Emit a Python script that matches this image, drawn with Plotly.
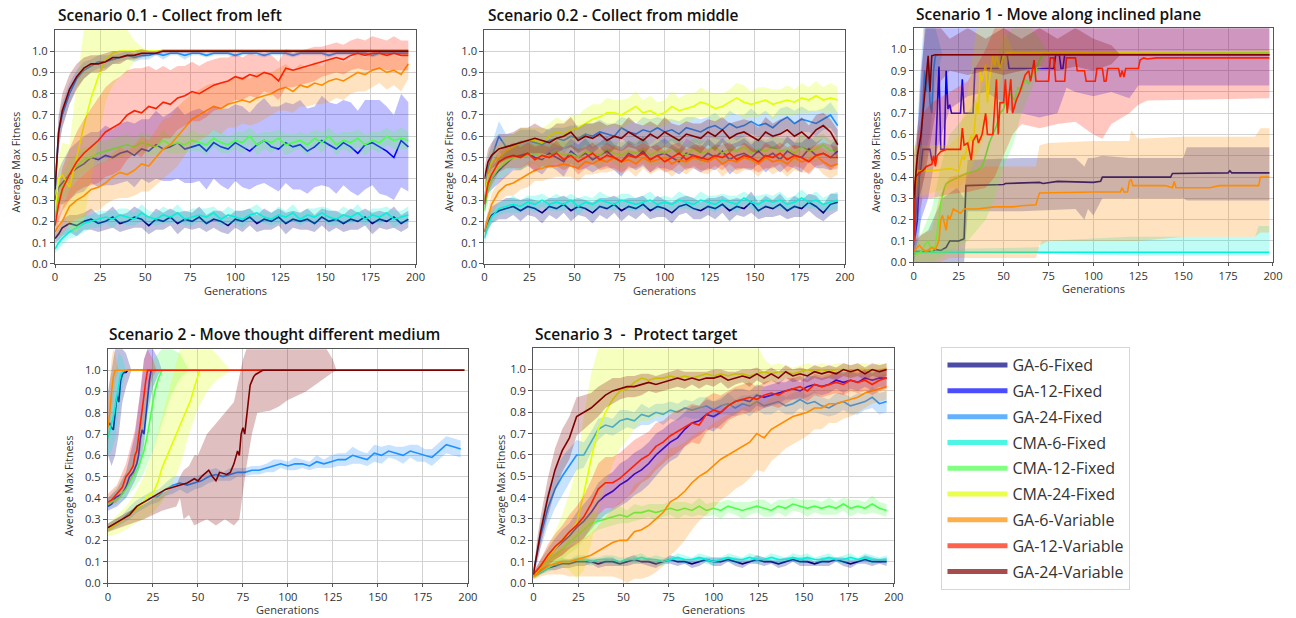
import plotly.graph_objects as go

# ---------------------------------------------------------------- data
GEN = [0, 2] + list(range(4, 200, 4))   # sampled generations (51 points)
X_TICKS = [0, 25, 50, 75, 100, 125, 150, 175, 200]
Y_TICKS = [0.0, 0.1, 0.2, 0.3, 0.4, 0.5, 0.6, 0.7, 0.8, 0.9, 1.0]
SERIES = ["GA-6-Fixed", "GA-12-Fixed", "GA-24-Fixed", "CMA-6-Fixed", "CMA-12-Fixed",
          "CMA-24-Fixed", "GA-6-Variable", "GA-12-Variable", "GA-24-Variable"]
TITLES = ["Scenario 0.1 - Collect from left", "Scenario 0.2 - Collect from middle",
          "Scenario 1 - Move along inclined plane", "Scenario 2 - Move thought different medium",
          "Scenario 3 \u00a0- \u00a0Protect target"]

# ---- Scenario 0.1 (mean, std on GEN)
S01_GA6F = [0.12, 0.14, 0.17, 0.19, 0.18, 0.20, 0.21, 0.19, 0.20, 0.22, 0.19, 0.20,
            0.22, 0.21, 0.18, 0.21, 0.20, 0.22, 0.19, 0.21, 0.20, 0.22,
            0.19, 0.21, 0.20, 0.18, 0.21, 0.20, 0.22, 0.19, 0.21, 0.20,
            0.22, 0.19, 0.21, 0.20, 0.21, 0.19, 0.22, 0.20, 0.21, 0.19,
            0.21, 0.20, 0.22, 0.19, 0.21, 0.20, 0.22, 0.19, 0.21]
S01_GA6F_SD = [0.02, 0.03, 0.04, 0.04, 0.05, 0.04, 0.05, 0.04, 0.04, 0.05, 0.04, 0.04,
               0.05, 0.04, 0.04, 0.05, 0.04, 0.04, 0.05, 0.04, 0.04, 0.05,
               0.04, 0.04, 0.05, 0.04, 0.04, 0.05, 0.04, 0.04, 0.05, 0.04,
               0.04, 0.05, 0.04, 0.04, 0.05, 0.04, 0.04, 0.05, 0.04, 0.04,
               0.05, 0.04, 0.04, 0.05, 0.04, 0.04, 0.05, 0.04, 0.04]
S01_GA12F = [0.30, 0.36, 0.38, 0.42, 0.45, 0.47, 0.50, 0.49, 0.51, 0.50, 0.52, 0.53,
             0.51, 0.54, 0.53, 0.56, 0.54, 0.55, 0.57, 0.54, 0.55, 0.56,
             0.53, 0.57, 0.55, 0.54, 0.57, 0.55, 0.53, 0.56, 0.58, 0.55,
             0.54, 0.57, 0.55, 0.56, 0.53, 0.55, 0.58, 0.56, 0.54, 0.57,
             0.55, 0.52, 0.56, 0.57, 0.55, 0.53, 0.50, 0.58, 0.55]
S01_GA12F_SD = [0.06, 0.08, 0.10, 0.12, 0.12, 0.13, 0.12, 0.13, 0.14, 0.13, 0.14, 0.14,
                0.15, 0.14, 0.15, 0.16, 0.15, 0.16, 0.17, 0.16, 0.17, 0.17,
                0.18, 0.17, 0.18, 0.19, 0.18, 0.19, 0.18, 0.19, 0.20, 0.19,
                0.20, 0.19, 0.20, 0.21, 0.20, 0.19, 0.21, 0.20, 0.21, 0.20,
                0.21, 0.20, 0.21, 0.20, 0.22, 0.21, 0.20, 0.22, 0.21]
S01_GA24F = [0.35, 0.62, 0.70, 0.80, 0.87, 0.91, 0.93, 0.95, 0.95, 0.96, 0.97, 0.98,
             0.97, 0.98, 0.98, 0.99, 0.98, 0.99, 0.99, 0.98, 0.99, 0.99,
             0.98, 0.99, 0.99, 0.99, 0.98, 0.99, 0.99, 0.99, 0.98, 0.99,
             0.99, 0.99, 0.98, 0.99, 0.99, 0.99, 0.99, 0.98, 0.99, 0.99,
             0.99, 0.99, 0.99, 0.98, 0.99, 0.99, 0.99, 0.99, 0.99]
S01_GA24F_SD = [0.05, 0.07, 0.06, 0.05, 0.04, 0.04, 0.03, 0.03, 0.03, 0.02, 0.02, 0.02,
                0.02, 0.02, 0.02, 0.01, 0.02, 0.01, 0.01, 0.02, 0.01, 0.01,
                0.01, 0.01, 0.01, 0.01, 0.01, 0.01, 0.01, 0.01, 0.01, 0.01,
                0.01, 0.01, 0.01, 0.01, 0.01, 0.01, 0.01, 0.01, 0.01, 0.01,
                0.01, 0.01, 0.01, 0.01, 0.01, 0.01, 0.01, 0.01, 0.01]
S01_CMA6 = [0.07, 0.10, 0.12, 0.15, 0.17, 0.19, 0.20, 0.21, 0.22, 0.21, 0.23, 0.22,
            0.21, 0.24, 0.22, 0.21, 0.23, 0.22, 0.24, 0.21, 0.22, 0.23,
            0.22, 0.24, 0.21, 0.23, 0.22, 0.21, 0.23, 0.24, 0.22, 0.21,
            0.23, 0.22, 0.24, 0.21, 0.23, 0.22, 0.24, 0.22, 0.21, 0.23,
            0.22, 0.24, 0.21, 0.23, 0.22, 0.24, 0.21, 0.22, 0.23]
S01_CMA6_SD = [0.02, 0.03, 0.03, 0.03, 0.04, 0.04, 0.03, 0.04, 0.03, 0.04, 0.03, 0.04,
               0.03, 0.04, 0.03, 0.03, 0.04, 0.03, 0.04, 0.03, 0.04, 0.03,
               0.04, 0.03, 0.03, 0.04, 0.03, 0.04, 0.03, 0.04, 0.03, 0.03,
               0.04, 0.03, 0.04, 0.03, 0.03, 0.04, 0.03, 0.04, 0.03, 0.04,
               0.03, 0.04, 0.03, 0.03, 0.04, 0.03, 0.04, 0.03, 0.04]
S01_CMA12 = [0.22, 0.30, 0.36, 0.42, 0.46, 0.49, 0.50, 0.52, 0.53, 0.54, 0.55, 0.56,
             0.55, 0.57, 0.56, 0.55, 0.58, 0.56, 0.57, 0.56, 0.58, 0.57,
             0.56, 0.59, 0.57, 0.56, 0.58, 0.57, 0.60, 0.56, 0.58, 0.57,
             0.59, 0.56, 0.57, 0.58, 0.56, 0.59, 0.57, 0.60, 0.56, 0.58,
             0.57, 0.59, 0.56, 0.58, 0.57, 0.60, 0.58, 0.59, 0.58]
S01_CMA12_SD = [0.05, 0.06, 0.06, 0.07, 0.06, 0.06, 0.05, 0.06, 0.05, 0.05, 0.05, 0.05,
                0.04, 0.05, 0.05, 0.04, 0.05, 0.04, 0.05, 0.04, 0.05, 0.04,
                0.05, 0.04, 0.05, 0.04, 0.04, 0.05, 0.04, 0.05, 0.04, 0.05,
                0.04, 0.05, 0.04, 0.04, 0.05, 0.04, 0.05, 0.04, 0.05, 0.04,
                0.05, 0.04, 0.05, 0.04, 0.05, 0.04, 0.04, 0.05, 0.04]
S01_CMA24 = [0.25, 0.40, 0.42, 0.36, 0.50, 0.65, 0.78, 0.88, 0.96, 0.99, 1.00, 1.00,
             1.00, 1.00, 1.00, 1.00, 1.00, 1.00, 1.00, 1.00, 1.00, 1.00,
             1.00, 1.00, 1.00, 1.00, 1.00, 1.00, 1.00, 1.00, 1.00, 1.00,
             1.00, 1.00, 1.00, 1.00, 1.00, 1.00, 1.00, 1.00, 1.00, 1.00,
             1.00, 1.00, 1.00, 1.00, 1.00, 1.00, 1.00, 1.00, 1.00]
S01_CMA24_SD = [0.05, 0.10, 0.15, 0.20, 0.35, 0.45, 0.40, 0.30, 0.20, 0.15, 0.12, 0.10,
                0.05, 0.02, 0.00, 0.00, 0.00, 0.00, 0.00, 0.00, 0.00, 0.00,
                0.00, 0.00, 0.00, 0.00, 0.00, 0.00, 0.00, 0.00, 0.00, 0.00,
                0.00, 0.00, 0.00, 0.00, 0.00, 0.00, 0.00, 0.00, 0.00, 0.00,
                0.00, 0.00, 0.00, 0.00, 0.00, 0.00, 0.00, 0.00, 0.00]
S01_GA6V = [0.15, 0.18, 0.20, 0.27, 0.30, 0.32, 0.35, 0.36, 0.38, 0.41, 0.43, 0.42,
            0.44, 0.47, 0.46, 0.50, 0.54, 0.56, 0.60, 0.64, 0.68, 0.70,
            0.72, 0.74, 0.73, 0.75, 0.76, 0.77, 0.76, 0.78, 0.79, 0.80,
            0.82, 0.83, 0.81, 0.84, 0.83, 0.85, 0.84, 0.86, 0.87, 0.86,
            0.88, 0.90, 0.89, 0.91, 0.92, 0.90, 0.91, 0.89, 0.94]
S01_GA6V_SD = [0.03, 0.05, 0.06, 0.08, 0.09, 0.10, 0.10, 0.11, 0.10, 0.11, 0.12, 0.11,
               0.12, 0.13, 0.12, 0.13, 0.14, 0.13, 0.14, 0.13, 0.12, 0.12,
               0.12, 0.11, 0.12, 0.11, 0.12, 0.11, 0.11, 0.12, 0.11, 0.10,
               0.10, 0.11, 0.10, 0.10, 0.09, 0.10, 0.09, 0.10, 0.09, 0.09,
               0.08, 0.09, 0.08, 0.08, 0.07, 0.08, 0.07, 0.08, 0.07]
S01_GA12V = [0.18, 0.28, 0.35, 0.42, 0.48, 0.52, 0.55, 0.58, 0.62, 0.64, 0.66, 0.70,
             0.72, 0.71, 0.74, 0.73, 0.76, 0.75, 0.78, 0.79, 0.81, 0.80,
             0.82, 0.84, 0.85, 0.86, 0.88, 0.87, 0.89, 0.88, 0.90, 0.89,
             0.86, 0.92, 0.91, 0.92, 0.93, 0.94, 0.95, 0.96, 0.97, 0.96,
             0.98, 0.99, 0.98, 0.99, 0.99, 0.98, 0.99, 0.98, 0.98]
S01_GA12V_SD = [0.05, 0.08, 0.10, 0.12, 0.14, 0.16, 0.18, 0.20, 0.21, 0.22, 0.22, 0.21,
                0.20, 0.21, 0.19, 0.18, 0.17, 0.16, 0.15, 0.14, 0.14, 0.13,
                0.13, 0.12, 0.12, 0.11, 0.11, 0.10, 0.10, 0.10, 0.09, 0.09,
                0.09, 0.09, 0.08, 0.08, 0.08, 0.08, 0.07, 0.07, 0.07, 0.07,
                0.07, 0.07, 0.07, 0.08, 0.07, 0.07, 0.08, 0.07, 0.07]
S01_GA24V = [0.35, 0.62, 0.72, 0.82, 0.88, 0.92, 0.94, 0.94, 0.95, 0.97, 0.97, 0.98,
             0.98, 0.99, 0.99, 0.99, 1.00, 1.00, 1.00, 1.00, 1.00, 1.00,
             1.00, 1.00, 1.00, 1.00, 1.00, 1.00, 1.00, 1.00, 1.00, 1.00,
             1.00, 1.00, 1.00, 1.00, 1.00, 1.00, 1.00, 1.00, 1.00, 1.00,
             1.00, 1.00, 1.00, 1.00, 1.00, 1.00, 1.00, 1.00, 1.00]
S01_GA24V_SD = [0.06, 0.08, 0.08, 0.07, 0.06, 0.05, 0.04, 0.04, 0.04, 0.03, 0.03, 0.02,
                0.02, 0.02, 0.01, 0.01, 0.01, 0.01, 0.01, 0.01, 0.01, 0.01,
                0.01, 0.01, 0.01, 0.01, 0.01, 0.01, 0.01, 0.01, 0.01, 0.01,
                0.01, 0.01, 0.01, 0.01, 0.01, 0.01, 0.01, 0.01, 0.01, 0.01,
                0.01, 0.01, 0.01, 0.01, 0.01, 0.01, 0.01, 0.01, 0.01]

# ---- Scenario 0.2 (mean, std on GEN)
S02_GA6F = [0.15, 0.20, 0.23, 0.25, 0.26, 0.27, 0.25, 0.27, 0.26, 0.24, 0.27, 0.26,
            0.28, 0.25, 0.27, 0.26, 0.24, 0.27, 0.26, 0.28, 0.25, 0.27,
            0.26, 0.28, 0.25, 0.27, 0.26, 0.24, 0.27, 0.28, 0.26, 0.25,
            0.27, 0.26, 0.28, 0.25, 0.27, 0.26, 0.29, 0.25, 0.27, 0.26,
            0.28, 0.25, 0.27, 0.26, 0.29, 0.27, 0.24, 0.28, 0.29]
S02_GA6F_SD = [0.03, 0.04, 0.04, 0.04, 0.05, 0.04, 0.05, 0.04, 0.04, 0.05, 0.04, 0.05,
               0.04, 0.05, 0.04, 0.04, 0.05, 0.04, 0.05, 0.04, 0.05, 0.04,
               0.05, 0.04, 0.04, 0.05, 0.04, 0.05, 0.04, 0.04, 0.05, 0.04,
               0.04, 0.05, 0.04, 0.05, 0.04, 0.04, 0.05, 0.04, 0.05, 0.04,
               0.05, 0.04, 0.05, 0.04, 0.04, 0.05, 0.04, 0.05, 0.04]
S02_GA12F = [0.30, 0.38, 0.40, 0.44, 0.47, 0.50, 0.51, 0.52, 0.50, 0.49, 0.52, 0.50,
             0.48, 0.53, 0.50, 0.52, 0.49, 0.51, 0.53, 0.50, 0.48, 0.52,
             0.50, 0.53, 0.49, 0.51, 0.52, 0.50, 0.48, 0.52, 0.51, 0.49,
             0.52, 0.50, 0.53, 0.49, 0.51, 0.52, 0.50, 0.53, 0.50, 0.52,
             0.49, 0.53, 0.51, 0.50, 0.54, 0.51, 0.52, 0.50, 0.53]
S02_GA12F_SD = [0.04, 0.05, 0.05, 0.06, 0.06, 0.06, 0.07, 0.06, 0.06, 0.07, 0.06, 0.06,
                0.07, 0.06, 0.06, 0.07, 0.06, 0.06, 0.07, 0.06, 0.07, 0.06,
                0.06, 0.07, 0.06, 0.06, 0.07, 0.06, 0.06, 0.07, 0.06, 0.06,
                0.07, 0.06, 0.06, 0.07, 0.06, 0.07, 0.06, 0.06, 0.07, 0.06,
                0.06, 0.07, 0.06, 0.07, 0.06, 0.06, 0.07, 0.06, 0.06]
S02_GA24F = [0.28, 0.45, 0.50, 0.60, 0.55, 0.56, 0.57, 0.58, 0.57, 0.56, 0.58, 0.59,
             0.58, 0.60, 0.59, 0.61, 0.60, 0.62, 0.61, 0.60, 0.64, 0.62,
             0.61, 0.63, 0.62, 0.64, 0.62, 0.63, 0.61, 0.64, 0.63, 0.62,
             0.64, 0.65, 0.63, 0.66, 0.64, 0.65, 0.67, 0.65, 0.66, 0.64,
             0.67, 0.69, 0.66, 0.68, 0.67, 0.66, 0.68, 0.70, 0.65]
S02_GA24F_SD = [0.04, 0.06, 0.06, 0.07, 0.06, 0.05, 0.06, 0.05, 0.06, 0.05, 0.06, 0.05,
                0.06, 0.05, 0.06, 0.05, 0.06, 0.06, 0.05, 0.06, 0.05, 0.06,
                0.05, 0.06, 0.06, 0.05, 0.06, 0.05, 0.06, 0.05, 0.06, 0.06,
                0.05, 0.06, 0.05, 0.06, 0.06, 0.05, 0.06, 0.05, 0.06, 0.05,
                0.06, 0.05, 0.06, 0.06, 0.05, 0.06, 0.05, 0.06, 0.06]
S02_CMA6 = [0.12, 0.18, 0.22, 0.26, 0.27, 0.28, 0.27, 0.29, 0.28, 0.30, 0.28, 0.29,
            0.28, 0.30, 0.27, 0.29, 0.28, 0.30, 0.29, 0.28, 0.30, 0.29,
            0.28, 0.29, 0.30, 0.28, 0.29, 0.28, 0.30, 0.29, 0.28, 0.30,
            0.29, 0.28, 0.30, 0.29, 0.28, 0.31, 0.29, 0.28, 0.30, 0.29,
            0.30, 0.28, 0.29, 0.31, 0.29, 0.30, 0.28, 0.29, 0.30]
S02_CMA6_SD = [0.03, 0.03, 0.03, 0.03, 0.03, 0.04, 0.03, 0.03, 0.04, 0.03, 0.03, 0.04,
               0.03, 0.03, 0.04, 0.03, 0.03, 0.04, 0.03, 0.03, 0.03, 0.04,
               0.03, 0.03, 0.04, 0.03, 0.03, 0.03, 0.04, 0.03, 0.03, 0.04,
               0.03, 0.04, 0.03, 0.03, 0.04, 0.03, 0.03, 0.04, 0.03, 0.03,
               0.04, 0.03, 0.03, 0.04, 0.03, 0.04, 0.03, 0.04, 0.04]
S02_CMA12 = [0.25, 0.35, 0.40, 0.45, 0.48, 0.50, 0.50, 0.51, 0.52, 0.50, 0.51, 0.53,
             0.51, 0.52, 0.50, 0.53, 0.52, 0.51, 0.54, 0.52, 0.51, 0.53,
             0.52, 0.54, 0.51, 0.53, 0.52, 0.54, 0.53, 0.51, 0.54, 0.52,
             0.53, 0.55, 0.52, 0.54, 0.53, 0.55, 0.52, 0.54, 0.53, 0.55,
             0.53, 0.54, 0.52, 0.55, 0.53, 0.54, 0.56, 0.53, 0.54]
S02_CMA12_SD = [0.04, 0.05, 0.05, 0.05, 0.06, 0.05, 0.06, 0.05, 0.05, 0.06, 0.05, 0.05,
                0.06, 0.05, 0.05, 0.06, 0.05, 0.06, 0.05, 0.05, 0.06, 0.05,
                0.05, 0.06, 0.05, 0.06, 0.05, 0.05, 0.06, 0.05, 0.05, 0.06,
                0.05, 0.05, 0.06, 0.05, 0.06, 0.05, 0.05, 0.06, 0.05, 0.05,
                0.06, 0.05, 0.05, 0.06, 0.05, 0.06, 0.05, 0.05, 0.06]
S02_CMA24 = [0.30, 0.42, 0.48, 0.50, 0.53, 0.55, 0.57, 0.58, 0.58, 0.57, 0.60, 0.62,
             0.61, 0.63, 0.64, 0.66, 0.68, 0.69, 0.71, 0.71, 0.70, 0.72,
             0.74, 0.71, 0.72, 0.70, 0.71, 0.74, 0.72, 0.73, 0.74, 0.76,
             0.75, 0.73, 0.74, 0.76, 0.78, 0.76, 0.75, 0.76, 0.77, 0.75,
             0.76, 0.77, 0.76, 0.78, 0.77, 0.79, 0.77, 0.78, 0.77]
S02_CMA24_SD = [0.05, 0.06, 0.06, 0.06, 0.07, 0.06, 0.07, 0.06, 0.06, 0.07, 0.06, 0.07,
                0.06, 0.07, 0.06, 0.07, 0.07, 0.06, 0.07, 0.06, 0.07, 0.06,
                0.07, 0.06, 0.07, 0.06, 0.06, 0.07, 0.06, 0.07, 0.06, 0.07,
                0.06, 0.07, 0.06, 0.06, 0.07, 0.08, 0.06, 0.07, 0.06, 0.07,
                0.06, 0.07, 0.06, 0.07, 0.06, 0.07, 0.06, 0.07, 0.06]
S02_GA6V = [0.15, 0.22, 0.28, 0.34, 0.37, 0.38, 0.40, 0.42, 0.44, 0.45, 0.46, 0.46,
            0.47, 0.46, 0.45, 0.48, 0.47, 0.49, 0.48, 0.50, 0.48, 0.49,
            0.47, 0.50, 0.48, 0.49, 0.50, 0.47, 0.49, 0.48, 0.50, 0.49,
            0.48, 0.50, 0.47, 0.49, 0.48, 0.50, 0.49, 0.47, 0.50, 0.48,
            0.49, 0.47, 0.50, 0.48, 0.49, 0.51, 0.48, 0.46, 0.47]
S02_GA6V_SD = [0.03, 0.04, 0.05, 0.05, 0.05, 0.06, 0.05, 0.06, 0.05, 0.06, 0.06, 0.05,
               0.06, 0.05, 0.06, 0.06, 0.05, 0.06, 0.05, 0.06, 0.06, 0.05,
               0.06, 0.05, 0.06, 0.05, 0.06, 0.06, 0.05, 0.06, 0.05, 0.06,
               0.06, 0.05, 0.06, 0.05, 0.06, 0.06, 0.05, 0.06, 0.05, 0.06,
               0.05, 0.06, 0.06, 0.05, 0.06, 0.05, 0.06, 0.06, 0.05]
S02_GA12V = [0.28, 0.38, 0.42, 0.48, 0.50, 0.51, 0.50, 0.52, 0.49, 0.51, 0.50, 0.52,
             0.49, 0.51, 0.48, 0.50, 0.52, 0.49, 0.51, 0.50, 0.48, 0.51,
             0.50, 0.52, 0.49, 0.51, 0.48, 0.50, 0.52, 0.49, 0.51, 0.50,
             0.49, 0.51, 0.50, 0.52, 0.49, 0.51, 0.50, 0.48, 0.51, 0.50,
             0.52, 0.49, 0.51, 0.50, 0.48, 0.51, 0.52, 0.50, 0.50]
S02_GA12V_SD = [0.04, 0.05, 0.05, 0.05, 0.05, 0.06, 0.05, 0.05, 0.06, 0.05, 0.05, 0.06,
                0.05, 0.05, 0.06, 0.05, 0.05, 0.05, 0.06, 0.05, 0.05, 0.06,
                0.05, 0.05, 0.06, 0.05, 0.05, 0.06, 0.05, 0.05, 0.05, 0.06,
                0.05, 0.05, 0.06, 0.05, 0.05, 0.06, 0.05, 0.05, 0.06, 0.05,
                0.05, 0.06, 0.05, 0.05, 0.06, 0.05, 0.05, 0.06, 0.05]
S02_GA24V = [0.40, 0.48, 0.51, 0.54, 0.55, 0.56, 0.57, 0.58, 0.59, 0.58, 0.57, 0.59,
             0.60, 0.62, 0.58, 0.60, 0.59, 0.61, 0.58, 0.60, 0.59, 0.62,
             0.60, 0.58, 0.61, 0.59, 0.62, 0.60, 0.58, 0.61, 0.60, 0.59,
             0.62, 0.60, 0.63, 0.59, 0.61, 0.62, 0.60, 0.58, 0.62, 0.60,
             0.61, 0.63, 0.60, 0.62, 0.59, 0.63, 0.65, 0.62, 0.56]
S02_GA24V_SD = [0.05, 0.06, 0.06, 0.07, 0.06, 0.06, 0.07, 0.06, 0.07, 0.06, 0.06, 0.07,
                0.06, 0.07, 0.06, 0.06, 0.07, 0.06, 0.07, 0.06, 0.06, 0.07,
                0.06, 0.07, 0.06, 0.06, 0.07, 0.06, 0.07, 0.06, 0.06, 0.07,
                0.06, 0.07, 0.06, 0.07, 0.06, 0.06, 0.07, 0.06, 0.07, 0.06,
                0.07, 0.06, 0.06, 0.07, 0.06, 0.07, 0.06, 0.06, 0.07]

# ---- Scenario 1 (step-like curves: x/y breakpoints; bands: x / low / high)
S1_GA6F_X = [0, 10, 12, 15, 18, 20, 25, 27, 28, 29, 50, 51, 70, 72, 80, 100, 104, 105,
             143, 144, 175, 176, 177, 198]
S1_GA6F_Y = [0.05, 0.05, 0.06, 0.055, 0.07, 0.10, 0.10, 0.105, 0.11, 0.36, 0.365, 0.37,
             0.375, 0.37, 0.38, 0.375, 0.38, 0.40, 0.40, 0.417, 0.42, 0.43, 0.42, 0.42]
S1_GA6F_BX = [0, 8, 16, 24, 28, 30, 60, 90, 95, 97, 100, 105, 120, 150, 152, 198]
S1_GA6F_LO = [0.0, 0.0, 0.0, 0.0, 0.0, 0.24, 0.24, 0.25, 0.2, 0.25, 0.22, 0.3, 0.3, 0.3, 0.29, 0.29]
S1_GA6F_HI = [0.1, 0.15, 0.3, 0.35, 0.3, 0.48, 0.49, 0.49, 0.45, 0.49, 0.49, 0.5, 0.49, 0.49, 0.54, 0.54]

S1_GA12F_X = [0, 2, 3, 4, 5, 9, 10, 12, 13, 14, 15, 17, 18, 19, 20, 21, 26, 27, 28, 33,
              34, 48, 49, 52, 53, 78, 79, 81, 82, 83, 84, 198]
S1_GA12F_Y = [0.08, 0.2, 0.4, 0.45, 0.53, 0.53, 0.48, 0.48, 0.7, 0.92, 0.53, 0.53, 0.9, 0.72,
              0.74, 0.7, 0.7, 0.86, 0.7, 0.7, 0.91, 0.91, 0.975, 0.975, 0.91, 0.91, 0.975,
              0.975, 0.91, 0.91, 0.975, 0.975]
S1_GA12F_BX = [0, 4, 8, 12, 20, 30, 40, 50, 55, 60, 70, 80, 85, 90, 100, 110, 120, 125, 130, 198]
S1_GA12F_LO = [0.0, 0.2, 0.3, 0.5, 0.72, 0.78, 0.8, 0.75, 0.7, 0.7, 0.68, 0.7, 0.82, 0.8, 0.78,
               0.8, 0.77, 0.83, 0.83, 0.83]
S1_GA12F_HI = [0.3, 0.9, 1.2, 1.2, 1.2, 1.2, 1.2, 1.2, 1.2, 1.2, 1.2, 1.2, 1.2, 1.2, 1.2,
               1.2, 1.2, 1.2, 1.2, 1.2]

S1_GA24F_X = [0, 2, 4, 6, 7, 8, 9, 10, 11, 12, 14, 198]
S1_GA24F_Y = [0.08, 0.3, 0.55, 0.9, 0.8, 0.95, 0.75, 0.7, 0.9, 0.97, 0.975, 0.975]
S1_GA24F_BX = [0, 3, 6, 9, 12, 15, 16, 198]
S1_GA24F_LO = [0.0, 0.1, 0.5, 0.6, 0.85, 0.95, 0.975, 0.975]
S1_GA24F_HI = [0.3, 0.8, 1.2, 1.2, 1.1, 1.0, 0.975, 0.975]

S1_CMA6_X = [0, 198]
S1_CMA6_Y = [0.047, 0.047]
S1_CMA6_BX = [0, 70, 71, 120, 190, 192, 198]
S1_CMA6_LO = [0.04, 0.04, 0.04, 0.03, 0.03, 0.03, 0.03]
S1_CMA6_HI = [0.06, 0.07, 0.1, 0.12, 0.12, 0.17, 0.17]

S1_CMA12_X = [0, 4, 6, 8, 10, 12, 14, 15, 17, 18, 20, 25, 30, 35, 38, 40, 42, 44, 46, 48,
              50, 52, 54, 56, 58, 60, 62, 64, 66, 68, 70, 72, 198]
S1_CMA12_Y = [0.03, 0.05, 0.08, 0.1, 0.05, 0.08, 0.2, 0.28, 0.35, 0.37, 0.38, 0.4, 0.42,
              0.43, 0.45, 0.5, 0.56, 0.6, 0.64, 0.7, 0.72, 0.78, 0.79, 0.76, 0.82, 0.81,
              0.86, 0.84, 0.88, 0.9, 0.95, 0.98, 0.985]
S1_CMA12_BX = [0, 10, 15, 20, 30, 40, 45, 50, 55, 60, 65, 70, 75, 198]
S1_CMA12_LO = [0.0, 0.0, 0.02, 0.05, 0.1, 0.2, 0.3, 0.45, 0.55, 0.7, 0.8, 0.9, 0.985, 0.985]
S1_CMA12_HI = [0.05, 0.25, 0.45, 0.6, 0.7, 0.85, 0.95, 1.05, 1.1, 1.1, 1.1, 1.05, 0.985, 0.985]

S1_CMA24_X = [0, 2, 10, 20, 25, 27, 28, 30, 32, 33, 35, 36, 37, 38, 40, 41, 42, 44, 45, 46,
              48, 50, 52, 198]
S1_CMA24_Y = [0.3, 0.43, 0.43, 0.44, 0.43, 0.5, 0.48, 0.55, 0.6, 0.55, 0.75, 0.7, 0.9, 0.85,
              0.93, 0.75, 0.85, 0.97, 0.92, 0.97, 0.91, 0.97, 0.985, 0.99]
S1_CMA24_BX = [0, 20, 25, 30, 35, 40, 45, 50, 55, 56, 198]
S1_CMA24_LO = [0.3, 0.35, 0.35, 0.4, 0.5, 0.6, 0.75, 0.9, 0.985, 0.99, 0.99]
S1_CMA24_HI = [0.55, 0.55, 0.6, 0.8, 1.1, 1.2, 1.2, 1.1, 1.0, 0.99, 0.99]

S1_GA6V_X = [0, 2, 3, 5, 7, 10, 12, 14, 15, 16, 17, 18, 19, 20, 22, 24, 26, 28, 35, 45,
             55, 60, 68, 69, 70, 100, 115, 116, 117, 119, 120, 121, 122, 140, 144, 145,
             146, 165, 170, 192, 193, 198]
S1_GA6V_Y = [0.05, 0.07, 0.08, 0.06, 0.05, 0.07, 0.06, 0.1, 0.2, 0.22, 0.18, 0.15, 0.22, 0.2,
             0.25, 0.24, 0.23, 0.25, 0.25, 0.26, 0.26, 0.265, 0.27, 0.3, 0.325, 0.33, 0.33,
             0.35, 0.33, 0.33, 0.38, 0.39, 0.36, 0.36, 0.35, 0.38, 0.35, 0.35, 0.36, 0.36,
             0.40, 0.40]
S1_GA6V_BX = [0, 10, 14, 20, 30, 40, 50, 60, 68, 70, 75, 100, 120, 121, 125, 150, 190, 193, 198]
S1_GA6V_LO = [0.0, 0.0, 0.0, 0.02, 0.02, 0.02, 0.02, 0.02, 0.02, 0.08, 0.1, 0.1, 0.1, 0.1,
              0.1, 0.12, 0.12, 0.14, 0.14]
S1_GA6V_HI = [0.12, 0.15, 0.3, 0.4, 0.42, 0.45, 0.45, 0.45, 0.45, 0.55, 0.56, 0.57, 0.57,
              0.62, 0.58, 0.59, 0.59, 0.63, 0.63]

S1_GA12V_X = [0, 1, 3, 5, 7, 10, 11, 12, 13, 15, 18, 26, 27, 28, 30, 32, 33, 35, 36, 38,
              40, 41, 43, 44, 46, 47, 48, 50, 51, 52, 53, 54, 55, 57, 59, 62, 64, 65, 66, 67,
              68, 75, 76, 78, 79, 84, 85, 90, 91, 95, 96, 101, 102, 105, 106, 107, 108, 114,
              115, 116, 117, 118, 125, 126, 128, 130, 135, 198]
S1_GA12V_Y = [0.1, 0.4, 0.42, 0.43, 0.45, 0.46, 0.5, 0.45, 0.5, 0.52, 0.53, 0.53, 0.63, 0.55,
              0.56, 0.48, 0.57, 0.6, 0.56, 0.6, 0.7, 0.6, 0.6, 0.6, 0.86, 0.6, 0.75, 0.75,
              0.86, 0.7, 0.78, 0.86, 0.7, 0.76, 0.8, 0.88, 0.9, 0.85, 0.9, 0.95, 0.85, 0.85,
              0.96, 0.96, 0.85, 0.85, 0.96, 0.96, 0.9, 0.9, 0.85, 0.85, 0.91, 0.91, 0.85,
              0.85, 0.91, 0.91, 0.87, 0.9, 0.87, 0.91, 0.91, 0.95, 0.96, 0.955, 0.96, 0.96]
S1_GA12V_BX = [0, 2, 5, 10, 20, 30, 40, 45, 50, 55, 60, 70, 80, 90, 100, 105, 110, 120,
               125, 130, 198]
S1_GA12V_LO = [0.0, 0.2, 0.3, 0.3, 0.32, 0.33, 0.35, 0.4, 0.5, 0.6, 0.65, 0.63, 0.65, 0.66,
               0.6, 0.58, 0.65, 0.7, 0.74, 0.76, 0.77]
S1_GA12V_HI = [0.3, 0.6, 0.7, 0.75, 0.8, 0.85, 1.0, 1.1, 1.2, 1.2, 1.2, 1.2, 1.2, 1.2, 1.2,
               1.2, 1.2, 1.2, 1.2, 1.2, 1.2]

S1_GA24V_X = [0, 2, 4, 6, 8, 9, 10, 12, 198]
S1_GA24V_Y = [0.3, 0.5, 0.6, 0.8, 0.97, 0.8, 0.97, 0.975, 0.975]
S1_GA24V_BX = [0, 3, 6, 10, 15, 20, 30, 40, 50, 60, 70, 80, 90, 100, 110, 115, 198]
S1_GA24V_LO = [0.1, 0.3, 0.4, 0.6, 0.85, 0.9, 0.88, 0.9, 0.88, 0.9, 0.92, 0.9, 0.92, 0.9,
               0.93, 0.975, 0.975]
S1_GA24V_HI = [0.5, 0.7, 1.1, 1.2, 1.1, 1.05, 1.1, 1.05, 1.1, 1.05, 1.1, 1.05, 1.1, 1.05,
               1.02, 0.975, 0.975]

# ---- Scenario 2 (curves: x/y; bands: x / low / high; GA-24-Fixed on GEN with std)
S2_GA6F_X = [0, 1, 2, 3, 4, 5, 6, 7, 8, 9, 10, 11, 198]
S2_GA6F_Y = [0.74, 0.75, 0.73, 0.72, 0.8, 0.88, 0.85, 0.95, 0.98, 0.99, 0.99, 1.0, 1.0]
S2_GA6F_BX = [0, 2, 4, 6, 8, 10, 12, 13]
S2_GA6F_LO = [0.6, 0.55, 0.6, 0.7, 0.85, 0.92, 0.97, 1.0]
S2_GA6F_HI = [0.9, 1.0, 1.1, 1.1, 1.1, 1.08, 1.03, 1.0]

S2_GA12F_X = [0, 2, 4, 6, 8, 10, 12, 14, 16, 17, 18, 19, 20, 21, 22, 23, 24, 198]
S2_GA12F_Y = [0.36, 0.37, 0.40, 0.41, 0.42, 0.45, 0.50, 0.52, 0.56, 0.6, 0.68, 0.72, 0.70,
              0.78, 0.87, 0.95, 1.0, 1.0]
S2_GA12F_BX = [0, 5, 10, 15, 18, 20, 22, 25, 28, 30]
S2_GA12F_LO = [0.34, 0.36, 0.4, 0.48, 0.55, 0.65, 0.8, 0.92, 0.98, 1.0]
S2_GA12F_HI = [0.4, 0.44, 0.52, 0.7, 0.9, 1.05, 1.1, 1.1, 1.05, 1.0]

S2_GA24F = [0.26, 0.27, 0.28, 0.30, 0.33, 0.36, 0.38, 0.40, 0.41, 0.44, 0.46, 0.47,
            0.46, 0.47, 0.48, 0.50, 0.51, 0.50, 0.51, 0.52, 0.52, 0.53,
            0.53, 0.54, 0.55, 0.56, 0.55, 0.56, 0.56, 0.55, 0.57, 0.56,
            0.57, 0.58, 0.58, 0.60, 0.59, 0.58, 0.61, 0.60, 0.62, 0.61,
            0.60, 0.62, 0.61, 0.60, 0.59, 0.62, 0.65, 0.64, 0.63]
S2_GA24F_SD = [0.02, 0.02, 0.02, 0.02, 0.03, 0.03, 0.03, 0.03, 0.03, 0.03, 0.04, 0.03,
               0.04, 0.03, 0.03, 0.03, 0.03, 0.02, 0.03, 0.02, 0.02, 0.02,
               0.02, 0.02, 0.03, 0.02, 0.02, 0.03, 0.02, 0.02, 0.03, 0.02,
               0.03, 0.03, 0.03, 0.04, 0.03, 0.03, 0.04, 0.04, 0.03, 0.03,
               0.04, 0.03, 0.04, 0.03, 0.04, 0.04, 0.04, 0.04, 0.04]

S2_CMA6_X = [0, 1, 2, 3, 4, 5, 6, 7, 8, 9, 198]
S2_CMA6_Y = [0.68, 0.72, 0.75, 0.78, 0.83, 0.9, 0.95, 0.98, 0.99, 1.0, 1.0]
S2_CMA6_BX = [0, 2, 4, 6, 8, 10]
S2_CMA6_LO = [0.6, 0.62, 0.68, 0.8, 0.92, 1.0]
S2_CMA6_HI = [0.76, 0.88, 0.98, 1.08, 1.06, 1.0]

S2_CMA12_X = [0, 2, 4, 6, 8, 10, 12, 14, 16, 18, 20, 22, 24, 26, 28, 30, 198]
S2_CMA12_Y = [0.37, 0.38, 0.39, 0.40, 0.42, 0.44, 0.47, 0.50, 0.53, 0.57, 0.62, 0.70, 0.80,
              0.90, 0.96, 1.0, 1.0]
S2_CMA12_BX = [0, 5, 10, 15, 20, 25, 30, 35, 40, 45]
S2_CMA12_LO = [0.35, 0.37, 0.4, 0.45, 0.52, 0.62, 0.75, 0.88, 0.96, 1.0]
S2_CMA12_HI = [0.4, 0.45, 0.52, 0.65, 0.85, 1.05, 1.1, 1.1, 1.08, 1.0]

S2_CMA24_X = [0, 5, 10, 15, 20, 22, 25, 28, 30, 32, 34, 36, 38, 40, 42, 44, 46, 48, 50, 51, 198]
S2_CMA24_Y = [0.25, 0.28, 0.31, 0.34, 0.38, 0.41, 0.42, 0.48, 0.54, 0.58, 0.62, 0.66, 0.70,
              0.74, 0.78, 0.82, 0.86, 0.92, 0.97, 1.0, 1.0]
S2_CMA24_BX = [0, 5, 10, 15, 20, 25, 30, 35, 40, 45, 50, 55, 60, 65, 68]
S2_CMA24_LO = [0.22, 0.23, 0.25, 0.28, 0.3, 0.33, 0.38, 0.45, 0.55, 0.7, 0.82, 0.9, 0.95, 0.98, 1.0]
S2_CMA24_HI = [0.28, 0.32, 0.36, 0.42, 0.5, 0.62, 0.78, 0.95, 1.1, 1.15, 1.15, 1.12, 1.08, 1.03, 1.0]

S2_GA6V_X = [0, 1, 2, 3, 4, 198]
S2_GA6V_Y = [0.73, 0.8, 0.9, 0.97, 1.0, 1.0]
S2_GA6V_BX = [0, 1, 2, 3, 4, 5, 6]
S2_GA6V_LO = [0.65, 0.7, 0.8, 0.88, 0.95, 0.98, 1.0]
S2_GA6V_HI = [0.85, 0.95, 1.05, 1.1, 1.08, 1.03, 1.0]

S2_GA12V_X = [0, 2, 4, 6, 8, 10, 12, 14, 15, 16, 17, 18, 19, 20, 21, 22, 198]
S2_GA12V_Y = [0.38, 0.39, 0.41, 0.43, 0.45, 0.50, 0.52, 0.55, 0.60, 0.62, 0.68, 0.75, 0.82,
              0.88, 0.95, 1.0, 1.0]
S2_GA12V_BX = [0, 5, 10, 15, 18, 20, 22, 25, 27]
S2_GA12V_LO = [0.36, 0.38, 0.44, 0.52, 0.62, 0.75, 0.88, 0.97, 1.0]
S2_GA12V_HI = [0.42, 0.46, 0.56, 0.72, 0.9, 1.05, 1.1, 1.05, 1.0]

S2_GA24V_X = [0, 2, 4, 8, 12, 16, 20, 24, 28, 32, 36, 40, 44, 48, 50, 52, 56, 58, 60, 62,
              66, 68, 70, 72, 73, 74, 75, 76, 77, 78, 79, 80, 81, 82, 84, 86, 198]
S2_GA24V_Y = [0.26, 0.27, 0.28, 0.3, 0.32, 0.36, 0.38, 0.40, 0.42, 0.44, 0.45, 0.46, 0.47,
              0.49, 0.48, 0.50, 0.53, 0.50, 0.48, 0.52, 0.51, 0.52, 0.56, 0.62, 0.60, 0.70,
              0.73, 0.70, 0.77, 0.85, 0.93, 0.95, 0.97, 0.98, 0.99, 1.0, 1.0]
S2_GA24V_BX = [0, 10, 20, 30, 38, 40, 42, 45, 48, 50, 55, 60, 65, 70, 73, 75, 77, 80, 83, 90,
               95, 100, 105, 110, 115, 120, 125, 127]
S2_GA24V_LO = [0.24, 0.27, 0.3, 0.34, 0.36, 0.4, 0.3, 0.32, 0.27, 0.28, 0.3, 0.27, 0.3, 0.27,
               0.3, 0.42, 0.55, 0.7, 0.8, 0.81, 0.83, 0.86, 0.88, 0.9, 0.93, 0.96, 0.99, 1.0]
S2_GA24V_HI = [0.28, 0.33, 0.37, 0.42, 0.46, 0.5, 0.53, 0.55, 0.6, 0.6, 0.7, 0.75, 0.8, 0.85,
               0.97, 1.05, 1.1, 1.15, 1.2, 1.2, 1.2, 1.2, 1.2, 1.2, 1.15, 1.12, 1.05, 1.0]

# ---- Scenario 3 (mean, std on GEN)
S3_GA6F = [0.03, 0.04, 0.05, 0.07, 0.08, 0.09, 0.09, 0.10, 0.10, 0.10, 0.09, 0.10,
           0.10, 0.09, 0.10, 0.11, 0.10, 0.10, 0.09, 0.10, 0.11, 0.10,
           0.10, 0.09, 0.10, 0.11, 0.10, 0.10, 0.11, 0.10, 0.09, 0.10,
           0.11, 0.10, 0.10, 0.09, 0.10, 0.11, 0.10, 0.10, 0.09, 0.10,
           0.10, 0.11, 0.10, 0.09, 0.10, 0.11, 0.10, 0.10, 0.10]
S3_GA6F_SD = [0.01, 0.01, 0.01, 0.01, 0.02, 0.02, 0.02, 0.02, 0.02, 0.01, 0.02, 0.02,
              0.02, 0.01, 0.02, 0.02, 0.01, 0.02, 0.02, 0.01, 0.02, 0.02,
              0.01, 0.02, 0.02, 0.01, 0.02, 0.02, 0.01, 0.02, 0.02, 0.01,
              0.02, 0.02, 0.01, 0.02, 0.02, 0.01, 0.02, 0.02, 0.01, 0.02,
              0.02, 0.01, 0.02, 0.02, 0.01, 0.02, 0.02, 0.01, 0.02]
S3_GA12F = [0.04, 0.06, 0.08, 0.12, 0.16, 0.19, 0.22, 0.26, 0.29, 0.33, 0.38, 0.41,
            0.43, 0.46, 0.48, 0.51, 0.53, 0.56, 0.60, 0.63, 0.66, 0.68,
            0.72, 0.75, 0.76, 0.79, 0.78, 0.80, 0.83, 0.85, 0.86, 0.85,
            0.88, 0.87, 0.88, 0.89, 0.90, 0.91, 0.90, 0.92, 0.93, 0.92,
            0.93, 0.95, 0.94, 0.95, 0.94, 0.96, 0.95, 0.96, 0.96]
S3_GA12F_SD = [0.01, 0.02, 0.03, 0.04, 0.05, 0.06, 0.06, 0.07, 0.08, 0.08, 0.09, 0.09,
               0.09, 0.10, 0.10, 0.10, 0.10, 0.10, 0.10, 0.09, 0.09, 0.09,
               0.08, 0.08, 0.07, 0.07, 0.07, 0.06, 0.06, 0.06, 0.05, 0.05,
               0.05, 0.05, 0.05, 0.05, 0.04, 0.05, 0.04, 0.05, 0.04, 0.04,
               0.04, 0.04, 0.05, 0.04, 0.04, 0.04, 0.05, 0.04, 0.04]
S3_GA24F = [0.05, 0.13, 0.22, 0.35, 0.44, 0.50, 0.55, 0.60, 0.60, 0.66, 0.72, 0.74,
            0.73, 0.76, 0.77, 0.76, 0.79, 0.78, 0.80, 0.79, 0.81, 0.80,
            0.82, 0.81, 0.82, 0.83, 0.81, 0.83, 0.84, 0.82, 0.84, 0.83,
            0.85, 0.83, 0.84, 0.85, 0.83, 0.84, 0.86, 0.84, 0.85, 0.83,
            0.82, 0.84, 0.85, 0.83, 0.84, 0.85, 0.87, 0.84, 0.85]
S3_GA24F_SD = [0.02, 0.04, 0.06, 0.08, 0.09, 0.09, 0.08, 0.07, 0.06, 0.05, 0.05, 0.04,
               0.04, 0.05, 0.04, 0.04, 0.05, 0.04, 0.04, 0.05, 0.04, 0.04,
               0.04, 0.04, 0.05, 0.04, 0.04, 0.04, 0.05, 0.04, 0.04, 0.05,
               0.04, 0.04, 0.05, 0.04, 0.04, 0.05, 0.04, 0.04, 0.05, 0.04,
               0.04, 0.05, 0.04, 0.04, 0.05, 0.04, 0.05, 0.05, 0.05]
S3_CMA6 = [0.03, 0.04, 0.05, 0.07, 0.09, 0.10, 0.10, 0.11, 0.11, 0.10, 0.11, 0.11,
           0.11, 0.10, 0.11, 0.11, 0.12, 0.11, 0.11, 0.10, 0.11, 0.12,
           0.11, 0.11, 0.12, 0.11, 0.10, 0.11, 0.12, 0.11, 0.11, 0.12,
           0.11, 0.11, 0.12, 0.11, 0.11, 0.12, 0.11, 0.12, 0.11, 0.11,
           0.12, 0.11, 0.11, 0.12, 0.11, 0.12, 0.11, 0.11, 0.11]
S3_CMA6_SD = [0.01, 0.01, 0.01, 0.02, 0.02, 0.02, 0.01, 0.02, 0.02, 0.02, 0.01, 0.02,
              0.02, 0.02, 0.01, 0.02, 0.02, 0.01, 0.02, 0.02, 0.01, 0.02,
              0.02, 0.01, 0.02, 0.02, 0.02, 0.01, 0.02, 0.02, 0.01, 0.02,
              0.02, 0.01, 0.02, 0.02, 0.01, 0.02, 0.02, 0.02, 0.01, 0.02,
              0.02, 0.01, 0.02, 0.02, 0.01, 0.02, 0.02, 0.01, 0.02]
S3_CMA12 = [0.03, 0.05, 0.07, 0.10, 0.13, 0.16, 0.19, 0.22, 0.25, 0.28, 0.29, 0.30,
            0.31, 0.32, 0.31, 0.33, 0.33, 0.34, 0.33, 0.34, 0.35, 0.34,
            0.35, 0.34, 0.36, 0.34, 0.35, 0.34, 0.36, 0.35, 0.34, 0.35,
            0.36, 0.35, 0.34, 0.36, 0.35, 0.37, 0.36, 0.35, 0.36, 0.35,
            0.36, 0.35, 0.37, 0.35, 0.36, 0.35, 0.37, 0.35, 0.34]
S3_CMA12_SD = [0.01, 0.02, 0.02, 0.03, 0.04, 0.05, 0.05, 0.06, 0.05, 0.05, 0.04, 0.04,
               0.04, 0.04, 0.03, 0.04, 0.03, 0.03, 0.04, 0.03, 0.03, 0.04,
               0.03, 0.03, 0.04, 0.03, 0.03, 0.04, 0.03, 0.03, 0.04, 0.03,
               0.03, 0.04, 0.03, 0.03, 0.04, 0.03, 0.03, 0.04, 0.03, 0.03,
               0.04, 0.03, 0.03, 0.04, 0.03, 0.03, 0.04, 0.03, 0.03]
S3_CMA24 = [0.03, 0.05, 0.08, 0.12, 0.16, 0.20, 0.24, 0.28, 0.42, 0.58, 0.72, 0.80,
            0.86, 0.90, 0.91, 0.94, 0.96, 0.95, 0.96, 0.96, 0.97, 0.96,
            0.97, 0.96, 0.97, 0.98, 0.97, 0.98, 0.97, 0.98, 0.98, 0.97,
            0.98, 0.99, 0.98, 0.99, 0.99, 0.98, 0.99, 1.00, 0.99, 1.00,
            0.99, 1.00, 1.00, 0.99, 1.00, 1.00, 0.99, 1.00, 1.00]
S3_CMA24_SD = [0.01, 0.02, 0.03, 0.05, 0.08, 0.12, 0.18, 0.26, 0.36, 0.40, 0.38, 0.34,
               0.30, 0.27, 0.24, 0.22, 0.20, 0.19, 0.18, 0.18, 0.17, 0.17,
               0.16, 0.16, 0.16, 0.15, 0.15, 0.15, 0.15, 0.15, 0.14, 0.14,
               0.14, 0.06, 0.04, 0.04, 0.03, 0.03, 0.03, 0.03, 0.03, 0.03,
               0.03, 0.03, 0.03, 0.03, 0.03, 0.03, 0.03, 0.03, 0.03]
S3_GA6V = [0.03, 0.04, 0.06, 0.08, 0.09, 0.10, 0.10, 0.11, 0.12, 0.13, 0.15, 0.17,
           0.19, 0.20, 0.20, 0.24, 0.25, 0.27, 0.30, 0.33, 0.38, 0.40,
           0.43, 0.47, 0.50, 0.52, 0.55, 0.58, 0.60, 0.62, 0.64, 0.66,
           0.70, 0.68, 0.72, 0.74, 0.76, 0.78, 0.79, 0.80, 0.82, 0.82,
           0.84, 0.84, 0.85, 0.86, 0.87, 0.89, 0.90, 0.91, 0.92]
S3_GA6V_SD = [0.01, 0.02, 0.03, 0.04, 0.05, 0.06, 0.07, 0.08, 0.09, 0.10, 0.12, 0.14,
              0.16, 0.18, 0.20, 0.22, 0.23, 0.24, 0.25, 0.25, 0.25, 0.24,
              0.23, 0.22, 0.21, 0.20, 0.20, 0.19, 0.19, 0.18, 0.18, 0.17,
              0.17, 0.16, 0.15, 0.14, 0.13, 0.13, 0.12, 0.11, 0.10, 0.10,
              0.09, 0.09, 0.08, 0.08, 0.07, 0.07, 0.06, 0.06, 0.06]
S3_GA12V = [0.04, 0.06, 0.08, 0.13, 0.17, 0.20, 0.24, 0.27, 0.31, 0.37, 0.44, 0.47,
            0.47, 0.49, 0.52, 0.55, 0.58, 0.60, 0.64, 0.66, 0.69, 0.71,
            0.73, 0.75, 0.74, 0.79, 0.81, 0.80, 0.83, 0.85, 0.86, 0.87,
            0.86, 0.88, 0.89, 0.88, 0.90, 0.91, 0.92, 0.90, 0.93, 0.92,
            0.93, 0.94, 0.93, 0.95, 0.94, 0.95, 0.93, 0.95, 0.96]
S3_GA12V_SD = [0.01, 0.02, 0.03, 0.05, 0.06, 0.07, 0.08, 0.09, 0.10, 0.11, 0.12, 0.12,
               0.12, 0.12, 0.12, 0.12, 0.11, 0.11, 0.11, 0.10, 0.10, 0.10,
               0.09, 0.09, 0.09, 0.08, 0.08, 0.08, 0.07, 0.07, 0.07, 0.07,
               0.06, 0.06, 0.06, 0.06, 0.06, 0.05, 0.05, 0.05, 0.05, 0.05,
               0.05, 0.05, 0.05, 0.05, 0.05, 0.05, 0.05, 0.05, 0.05]
S3_GA24V = [0.04, 0.15, 0.24, 0.40, 0.53, 0.62, 0.68, 0.78, 0.80, 0.82, 0.85, 0.88,
            0.90, 0.91, 0.92, 0.92, 0.93, 0.94, 0.93, 0.94, 0.95, 0.96,
            0.95, 0.96, 0.95, 0.96, 0.96, 0.97, 0.95, 0.96, 0.97, 0.96,
            0.98, 0.96, 0.98, 0.96, 0.99, 0.97, 0.98, 0.97, 0.99, 0.98,
            0.99, 0.98, 1.00, 0.99, 1.00, 0.98, 1.00, 0.99, 1.00]
S3_GA24V_SD = [0.01, 0.05, 0.07, 0.09, 0.10, 0.10, 0.10, 0.09, 0.08, 0.07, 0.07, 0.06,
               0.06, 0.05, 0.05, 0.05, 0.05, 0.04, 0.04, 0.04, 0.04, 0.04,
               0.04, 0.03, 0.04, 0.03, 0.04, 0.03, 0.04, 0.03, 0.03, 0.04,
               0.03, 0.03, 0.03, 0.03, 0.03, 0.03, 0.03, 0.03, 0.03, 0.03,
               0.03, 0.03, 0.03, 0.03, 0.03, 0.03, 0.03, 0.03, 0.03]

# ---------------------------------------------------------------- styles
COLORS = ["#000080", "#0000ff", "#1e90ff", "#00f2d8", "#4cff4c",
          "#e0ff00", "#ff8c00", "#ff2000", "#800000"]
BAND_ALPHA = 0.25
W, H = 1296, 618
# measured mapping between figure pixels and the photographed page
SX, OX, SY, OY = 0.9914, 2.17, 0.9862, 1.74
FONT = "Open Sans, Noto Sans, sans-serif"


def px(xp):
    return ((xp - OX) / SX) / W


def py(yp):
    return 1 - ((yp - OY) / SY) / H


def rgba(h, a):
    h = h.lstrip("#")
    return "rgba(%d,%d,%d,%s)" % (int(h[0:2], 16), int(h[2:4], 16), int(h[4:6], 16), a)


def from_sd(mean, sd):
    assert len(mean) == len(GEN) and len(sd) == len(GEN)
    return dict(lx=GEN, ly=mean, bx=GEN,
                lo=[m - s for m, s in zip(mean, sd)],
                hi=[m + s for m, s in zip(mean, sd)])


def from_xy(lx, ly, bx, lo, hi):
    assert len(lx) == len(ly) and len(bx) == len(lo) == len(hi)
    return dict(lx=lx, ly=ly, bx=bx, lo=lo, hi=hi)


P01 = [from_sd(S01_GA6F, S01_GA6F_SD), from_sd(S01_GA12F, S01_GA12F_SD),
       from_sd(S01_GA24F, S01_GA24F_SD), from_sd(S01_CMA6, S01_CMA6_SD),
       from_sd(S01_CMA12, S01_CMA12_SD), from_sd(S01_CMA24, S01_CMA24_SD),
       from_sd(S01_GA6V, S01_GA6V_SD), from_sd(S01_GA12V, S01_GA12V_SD),
       from_sd(S01_GA24V, S01_GA24V_SD)]
P02 = [from_sd(S02_GA6F, S02_GA6F_SD), from_sd(S02_GA12F, S02_GA12F_SD),
       from_sd(S02_GA24F, S02_GA24F_SD), from_sd(S02_CMA6, S02_CMA6_SD),
       from_sd(S02_CMA12, S02_CMA12_SD), from_sd(S02_CMA24, S02_CMA24_SD),
       from_sd(S02_GA6V, S02_GA6V_SD), from_sd(S02_GA12V, S02_GA12V_SD),
       from_sd(S02_GA24V, S02_GA24V_SD)]
P1 = [from_xy(S1_GA6F_X, S1_GA6F_Y, S1_GA6F_BX, S1_GA6F_LO, S1_GA6F_HI),
      from_xy(S1_GA12F_X, S1_GA12F_Y, S1_GA12F_BX, S1_GA12F_LO, S1_GA12F_HI),
      from_xy(S1_GA24F_X, S1_GA24F_Y, S1_GA24F_BX, S1_GA24F_LO, S1_GA24F_HI),
      from_xy(S1_CMA6_X, S1_CMA6_Y, S1_CMA6_BX, S1_CMA6_LO, S1_CMA6_HI),
      from_xy(S1_CMA12_X, S1_CMA12_Y, S1_CMA12_BX, S1_CMA12_LO, S1_CMA12_HI),
      from_xy(S1_CMA24_X, S1_CMA24_Y, S1_CMA24_BX, S1_CMA24_LO, S1_CMA24_HI),
      from_xy(S1_GA6V_X, S1_GA6V_Y, S1_GA6V_BX, S1_GA6V_LO, S1_GA6V_HI),
      from_xy(S1_GA12V_X, S1_GA12V_Y, S1_GA12V_BX, S1_GA12V_LO, S1_GA12V_HI),
      from_xy(S1_GA24V_X, S1_GA24V_Y, S1_GA24V_BX, S1_GA24V_LO, S1_GA24V_HI)]
P2 = [from_xy(S2_GA6F_X, S2_GA6F_Y, S2_GA6F_BX, S2_GA6F_LO, S2_GA6F_HI),
      from_xy(S2_GA12F_X, S2_GA12F_Y, S2_GA12F_BX, S2_GA12F_LO, S2_GA12F_HI),
      from_sd(S2_GA24F, S2_GA24F_SD),
      from_xy(S2_CMA6_X, S2_CMA6_Y, S2_CMA6_BX, S2_CMA6_LO, S2_CMA6_HI),
      from_xy(S2_CMA12_X, S2_CMA12_Y, S2_CMA12_BX, S2_CMA12_LO, S2_CMA12_HI),
      from_xy(S2_CMA24_X, S2_CMA24_Y, S2_CMA24_BX, S2_CMA24_LO, S2_CMA24_HI),
      from_xy(S2_GA6V_X, S2_GA6V_Y, S2_GA6V_BX, S2_GA6V_LO, S2_GA6V_HI),
      from_xy(S2_GA12V_X, S2_GA12V_Y, S2_GA12V_BX, S2_GA12V_LO, S2_GA12V_HI),
      from_xy(S2_GA24V_X, S2_GA24V_Y, S2_GA24V_BX, S2_GA24V_LO, S2_GA24V_HI)]
P3 = [from_sd(S3_GA6F, S3_GA6F_SD), from_sd(S3_GA12F, S3_GA12F_SD),
      from_sd(S3_GA24F, S3_GA24F_SD), from_sd(S3_CMA6, S3_CMA6_SD),
      from_sd(S3_CMA12, S3_CMA12_SD), from_sd(S3_CMA24, S3_CMA24_SD),
      from_sd(S3_GA6V, S3_GA6V_SD), from_sd(S3_GA12V, S3_GA12V_SD),
      from_sd(S3_GA24V, S3_GA24V_SD)]

# panel layout in page pixels: (left, right, top, bottom), title pos, y-title pos, x-title pos
LAYOUT = [
    dict(data=P01, box=(54.3, 415.3, 31.7, 265.0), title=(55, 17), ytl=(15, 163), xtl=(235, 292)),
    dict(data=P02, box=(484.3, 845.3, 31.7, 265.0), title=(486, 17), ytl=(448, 163), xtl=(665, 292)),
    dict(data=P1, box=(914.3, 1274.0, 30.0, 263.3), title=(914, 16), ytl=(876, 163), xtl=(1094, 290)),
    dict(data=P2, box=(107.3, 467.7, 350.0, 583.3), title=(106, 335), ytl=(69, 486), xtl=(287, 609.5)),
    dict(data=P3, box=(533.3, 894.3, 349.3, 583.3), title=(533, 335), ytl=(501, 486), xtl=(714, 609.5)),
]

fig = go.Figure()
annotations = []
for i, pnl in enumerate(LAYOUT):
    xa = "x" if i == 0 else "x%d" % (i + 1)
    ya = "y" if i == 0 else "y%d" % (i + 1)
    for k, s in enumerate(pnl["data"]):
        fig.add_trace(go.Scatter(
            x=list(s["bx"]) + list(s["bx"])[::-1], y=list(s["hi"]) + list(s["lo"])[::-1],
            xaxis=xa, yaxis=ya, mode="lines", fill="toself", line=dict(width=0),
            fillcolor=rgba(COLORS[k], BAND_ALPHA), hoverinfo="skip", showlegend=False))
        fig.add_trace(go.Scatter(
            x=s["lx"], y=s["ly"], xaxis=xa, yaxis=ya, mode="lines",
            line=dict(color=COLORS[k], width=1.6), name=SERIES[k], showlegend=False))
    l, r, t, b = pnl["box"]
    axis_common = dict(showline=True, mirror=True, linecolor="#555555", linewidth=1.2,
                       showgrid=True, gridcolor="#d2d2d2", gridwidth=1, zeroline=False,
                       ticks="outside", tickcolor="#555555",
                       tickfont=dict(family=FONT, size=11.2, color="#333333"))
    fig.layout["xaxis" if i == 0 else "xaxis%d" % (i + 1)] = dict(
        domain=[px(l), px(r)], anchor=ya, range=[0, 200], tickvals=X_TICKS, ticklen=3,
        **axis_common)
    fig.layout["yaxis" if i == 0 else "yaxis%d" % (i + 1)] = dict(
        domain=[py(b), py(t)], anchor=xa, range=[0, 1.099], tickvals=Y_TICKS,
        tickformat=".1f", ticklen=4, **axis_common)
    tx, ty = pnl["title"]
    annotations.append(dict(text=TITLES[i], x=px(tx), y=py(ty), xref="paper", yref="paper",
                            xanchor="left", yanchor="middle", showarrow=False,
                            font=dict(family=FONT, size=15.5, color="#111111", weight=600)))
    yx, yy = pnl["ytl"]
    annotations.append(dict(text="Average Max Fitness", x=px(yx), y=py(yy), xref="paper",
                            yref="paper", xanchor="center", yanchor="middle", textangle=-90,
                            showarrow=False, font=dict(family=FONT, size=10.6, color="#333333")))
    gx, gy = pnl["xtl"]
    annotations.append(dict(text="Generations", x=px(gx), y=py(gy), xref="paper",
                            yref="paper", xanchor="center", yanchor="middle", showarrow=False,
                            font=dict(family=FONT, size=11, color="#333333")))

# legend entries
for k, name in enumerate(SERIES):
    fig.add_trace(go.Scatter(x=[None], y=[None], mode="lines", name=name,
                             line=dict(color=COLORS[k], width=5), opacity=0.7,
                             legendgroup=name, showlegend=True))

fig.update_layout(
    width=W, height=H, autosize=False,
    margin=dict(l=0, r=0, t=0, b=0),
    paper_bgcolor="white", plot_bgcolor="white",
    annotations=annotations,
    showlegend=True,
    legend=dict(x=px(942), y=py(348), xanchor="left", yanchor="top",
                bgcolor="white", bordercolor="#d6d6d6", borderwidth=1,
                font=dict(family=FONT, size=16, color="#333333"),
                tracegroupgap=2.0, itemwidth=60, traceorder="grouped"),
)

# the page itself adds no margin around the figure
fig.write_html("out.html", config={"displayModeBar": False},
               post_script="document.body.style.margin='0';document.body.style.overflow='hidden';")
